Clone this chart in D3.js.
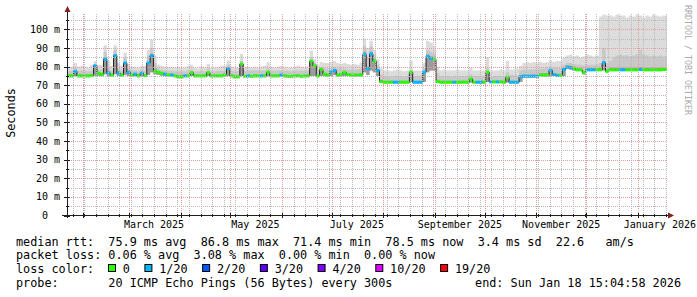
<!DOCTYPE html>
<html>
<head>
<meta charset="utf-8">
<script src="https://d3js.org/d3.v7.min.js"></script>
<style>
body { margin: 0; background: #fff; }
svg text { font-family: "DejaVu Sans Mono", monospace; white-space: pre; fill: #000; }
.axisText { font-size: 10px; }
.legend { font-size: 11.8px; }
.mark { font-size: 8.3px; fill: #aaaaaa; }
</style>
</head>
<body>
<svg id="svg_smoke"></svg>
<script>
  var w = 697;
  var h = 297;
  var plot = {left: 67, right: 667, top: 13, bottom: 215};

// time span of the graph
  var endTime = new Date(Date.UTC(2026, 0, 18, 15, 4, 58));
  var spanDays = 361;
  var binDays = 2;
  var startTime = new Date(endTime.getTime() - spanDays * 864e5);

// median rtt per 2-day bin (ms)
  var median = [
    75.0, 75.0, 77.5, 75.0, 75.0, 75.0, 75.0, 75.2, 80.5, 76.5,
    76.0, 84.0, 76.5, 75.5, 86.0, 76.5, 75.5, 82.0, 77.0, 75.5,
    76.0, 75.0, 76.5, 75.2, 82.0, 86.0, 77.5, 77.0, 76.5, 76.0,
    75.5, 75.5, 75.0, 74.5, 74.5, 75.0, 75.0, 76.8, 75.0, 75.0,
    75.0, 75.0, 76.8, 75.0, 75.0, 75.0, 75.0, 75.5, 79.0, 75.0,
    74.5, 74.5, 81.5, 74.8, 75.0, 74.8, 75.0, 75.0, 75.0, 75.0,
    77.0, 75.0, 75.0, 75.0, 75.5, 75.0, 74.8, 74.8, 75.0, 75.0,
    74.8, 75.0, 75.0, 83.0, 80.5, 75.0, 78.5, 76.0, 75.5, 77.2,
    78.0, 75.5, 75.8, 77.0, 75.8, 75.5, 75.5, 75.5, 75.5, 86.5,
    79.0, 86.8, 83.0, 78.0, 72.0, 71.6, 71.6, 71.6, 71.6, 71.6,
    71.6, 71.6, 71.6, 77.0, 71.6, 71.6, 71.6, 77.0, 85.5, 84.5,
    84.0, 72.0, 71.6, 71.6, 71.6, 71.6, 71.6, 71.6, 71.6, 71.6,
    71.6, 73.4, 71.6, 71.6, 71.6, 71.6, 77.0, 71.8, 71.8, 71.8,
    71.8, 71.6, 74.3, 71.6, 71.6, 71.6, 74.5, 74.8, 74.8, 74.8,
    74.8, 74.8, 75.5, 75.5, 75.5, 78.0, 75.8, 75.3, 75.3, 78.5,
    79.8, 79.5, 79.0, 78.3, 78.3, 76.8, 78.3, 78.3, 78.3, 78.3,
    78.3, 82.0, 77.5, 78.3, 78.3, 78.3, 78.3, 78.3, 78.3, 78.3,
    78.3, 78.3, 78.5, 78.3, 78.3, 78.3, 78.3, 78.3, 78.3, 78.5
  ];

// loss class per bin (index into lossLabels)
  var lossIdx = [
    0,0,1,0,0,0,0,0,1,0,
    0,1,1,0,1,1,0,1,1,0,
    1,0,1,0,1,1,0,0,0,1,
    0,1,0,0,0,1,0,0,0,0,
    0,0,0,0,0,0,0,0,1,0,
    0,0,0,0,1,0,0,0,1,0,
    0,0,0,0,1,0,0,0,0,0,
    0,0,0,0,0,0,0,0,0,1,
    1,0,0,0,0,0,0,0,0,1,
    1,1,0,1,0,0,0,0,1,1,
    0,0,0,0,1,1,1,1,1,1,
    0,0,0,0,0,0,1,0,0,0,
    0,0,0,1,1,0,0,1,0,1,
    0,0,0,1,1,1,1,1,1,1,
    1,1,0,0,0,1,1,1,0,1,
    1,1,0,0,0,0,1,1,1,0,
    0,1,0,0,0,0,1,1,0,0,
    0,0,1,0,0,0,0,0,0,0
  ];

// smoke: lowest ping, dark core top, mid band top, highest ping (ms)
  var pingMin = [
    74.7,74.7,74.8,74.7,74.7,74.7,74.7,74.8,75.2,75.0,
    74.8,76.0,75.0,74.8,76.0,75.0,74.8,75.5,75.0,74.8,
    74.8,74.7,74.8,74.7,75.5,77.0,76.0,75.5,75.2,75.0,
    74.8,74.8,74.5,74.2,74.2,74.5,74.5,75.0,74.6,74.6,
    74.6,74.6,75.0,74.6,74.6,74.6,74.6,74.8,75.0,74.6,
    74.2,74.2,75.0,74.4,74.5,74.4,74.5,74.5,74.5,74.5,
    74.8,74.5,74.5,74.5,74.8,74.5,74.4,74.4,74.5,74.5,
    74.4,74.5,74.5,75.0,75.0,74.5,75.0,74.8,74.8,75.0,
    75.5,74.8,75.0,75.0,75.0,74.8,74.8,74.8,74.8,77.0,
    75.5,78.0,77.0,75.0,71.4,71.3,71.3,71.3,71.3,71.3,
    71.3,71.3,71.3,71.8,71.3,71.3,71.3,71.8,77.0,78.0,
    78.0,71.4,71.3,71.3,71.3,71.3,71.3,71.3,71.3,71.3,
    71.3,71.5,71.3,71.3,71.3,71.3,71.8,71.3,71.3,71.3,
    71.3,71.3,71.5,71.3,71.3,71.3,71.8,74.4,74.4,74.4,
    74.4,74.4,74.8,74.8,74.8,75.0,75.0,74.8,74.8,75.0,
    78.8,78.5,78.0,77.8,77.8,76.0,77.8,77.8,77.8,77.8,
    77.8,78.0,77.0,77.8,77.8,77.8,77.8,77.8,77.8,77.8,
    77.8,77.8,77.8,77.8,77.8,77.8,77.8,77.8,77.8,77.8
  ];
  var pingCore = [
    75.8,75.8,78.0,75.8,75.8,75.8,75.8,76.0,80.5,77.0,
    76.5,85.0,77.5,76.2,86.0,77.5,76.2,82.5,77.5,76.2,
    76.5,75.8,77.0,76.0,82.5,87.0,79.0,77.5,77.0,76.5,
    76.2,76.2,75.8,75.5,75.5,75.8,75.8,77.0,75.8,75.8,
    75.8,75.8,77.0,75.8,75.8,75.8,75.8,76.2,79.0,75.8,
    75.3,75.3,81.0,75.5,75.8,75.5,75.8,75.8,75.8,75.8,
    77.0,75.8,75.8,75.8,76.2,75.8,75.5,75.5,75.8,75.8,
    75.5,75.8,75.8,83.0,80.5,75.8,78.5,76.5,76.2,77.5,
    78.0,76.2,76.5,77.0,76.5,76.2,76.2,76.2,76.5,88.0,
    80.0,88.0,84.0,78.5,73.0,72.5,72.5,72.5,72.5,72.5,
    72.5,72.5,72.5,77.0,72.5,72.5,72.5,77.0,86.5,85.5,
    85.0,73.0,72.5,72.5,72.5,72.5,72.5,72.5,72.5,72.5,
    72.5,73.5,72.5,72.5,72.5,72.5,76.5,72.5,72.5,72.5,
    72.5,72.5,74.0,72.5,72.5,72.5,75.5,75.8,75.8,75.8,
    75.8,75.8,76.5,76.5,76.5,78.0,76.5,76.2,76.2,79.0,
    80.5,80.5,80.0,79.2,79.2,77.5,79.2,79.2,79.2,79.2,
    79.5,83.0,78.5,79.5,79.5,79.5,79.5,79.5,79.5,79.5,
    79.5,79.5,79.8,79.5,79.5,79.5,79.5,79.5,79.5,79.5
  ];
  var pingHi = [
    77.5,77.8,79.5,77.8,78.0,77.5,77.5,78.0,81.5,78.5,
    78.5,88.0,79.5,78.0,89.0,79.5,78.0,85.0,79.0,78.0,
    78.0,77.5,78.5,78.0,86.0,90.0,82.0,79.0,78.5,78.0,
    77.8,77.8,77.5,77.5,77.5,77.5,78.0,78.5,77.5,77.5,
    77.8,77.5,79.0,77.5,77.5,77.8,78.0,78.0,81.0,77.8,
    77.5,77.5,83.0,77.8,78.0,78.0,78.0,78.0,78.0,78.0,
    79.0,78.0,77.8,78.0,78.0,77.8,77.8,77.5,77.8,78.0,
    77.8,77.8,78.0,85.0,82.0,78.5,80.0,79.0,79.0,79.5,
    80.0,79.0,79.0,79.0,78.5,78.5,78.5,78.5,79.0,91.0,
    85.0,91.0,86.5,81.0,76.0,75.0,75.0,74.5,75.0,75.0,
    75.0,74.5,75.0,78.0,75.0,75.0,75.0,79.0,89.0,88.0,
    87.0,76.5,75.0,75.0,75.0,74.5,75.0,75.0,75.0,75.0,
    75.0,76.0,75.0,75.0,75.0,75.0,79.0,75.0,75.0,75.0,
    75.0,75.0,77.0,75.5,75.5,75.5,78.0,78.5,78.5,78.5,
    78.5,78.5,79.0,79.0,79.5,80.0,79.5,79.5,79.5,81.0,
    82.0,82.0,81.5,81.0,81.0,80.5,81.0,81.0,81.0,81.0,
    82.0,90.0,82.0,83.0,85.0,86.0,86.5,86.0,86.0,85.5,
    86.0,86.5,89.0,86.5,86.0,85.5,86.0,85.5,86.0,85.5
  ];
  var pingMax = [
    79.5,80.0,82.0,80.0,80.5,79.5,79.5,81.0,83.0,81.0,
    81.0,91.5,83.0,80.5,91.5,82.0,80.5,87.5,81.5,80.0,
    80.0,79.5,80.5,80.5,89.0,94.5,86.0,81.0,80.5,80.0,
    79.5,80.0,79.5,80.0,79.5,79.5,80.5,81.0,79.5,79.0,
    80.0,79.5,81.5,79.5,79.5,80.0,80.5,80.5,83.3,80.0,
    79.5,79.5,87.0,80.0,80.0,79.5,80.0,79.5,80.0,80.5,
    82.4,80.0,79.5,80.0,80.5,80.0,79.5,79.5,80.0,80.5,
    80.0,79.5,80.0,88.7,84.0,81.0,82.5,82.0,82.0,82.5,
    83.0,82.0,81.5,82.0,81.5,81.0,81.5,81.0,82.0,95.0,
    90.0,94.0,89.0,84.0,79.0,78.0,78.0,77.5,78.0,78.5,
    78.0,77.5,78.0,83.5,78.0,78.0,78.0,82.0,94.0,93.0,
    91.0,80.0,78.0,78.5,78.0,78.0,78.0,78.5,78.0,78.0,
    78.0,79.5,78.0,78.0,78.0,78.0,85.0,78.0,78.0,78.0,
    78.5,78.0,83.0,78.5,78.5,79.0,80.5,82.0,82.5,82.0,
    82.5,82.0,82.5,82.0,82.5,83.5,82.5,83.0,83.0,85.0,
    86.0,86.5,85.5,86.0,85.0,85.5,86.5,86.0,85.5,86.0,
    107.0,108.0,107.5,107.5,107.0,108.0,107.5,107.5,106.5,107.5,
    107.0,108.0,107.5,106.5,107.5,107.0,108.0,107.5,107.0,107.5
  ];

// axis ticks and legend
  var yMax = 108.6;
  var yTickValues = [0, 10, 20, 30, 40, 50, 60, 70, 80, 90, 100];
  var yTickLabels = ["0  ", "10 m", "20 m", "30 m", "40 m", "50 m", "60 m", "70 m", "80 m", "90 m", "100 m"];
  var lossLabels = ["0", "1/20", "2/20", "3/20", "4/20", "10/20", "19/20"];
  var lossColors = ["#26ff00", "#00b8ff", "#0059ff", "#5e00ff", "#7e00ff", "#dd00ff", "#ff0000"];
  var legendRtt = "median rtt:  75.9 ms avg  86.8 ms max  71.4 ms min  78.5 ms now  3.4 ms sd  22.6   am/s";
  var legendLoss = "packet loss: 0.06 % avg  3.08 % max  0.00 % min  0.00 % now";
  var legendColorTitle = "loss color:";
  var legendProbe = "probe:       20 ICMP Echo Pings (56 Bytes) every 300s";
  var legendEnd = "end: Sun Jan 18 15:04:58 2026";

  var svg = d3.select("svg#svg_smoke")
      .attr("width", w)
      .attr("height", h);

  svg.append("rect").attr("width", w).attr("height", h).attr("fill", "#fff");

  var xScale = d3.scaleUtc()
      .domain([startTime, endTime])
      .range([plot.left, plot.right]);
  var yScale = d3.scaleLinear()
      .domain([0, yMax])
      .range([plot.bottom + 0.5, plot.top + 0.5]);

  var bins = median.map(function(m, i){
    return {
      t: d3.utcDay.offset(startTime, i * binDays),
      med: m, loss: lossIdx[i],
      lo: pingMin[i], core: pingCore[i], hi: pingHi[i], max: pingMax[i]
    };
  });
  bins.forEach(function(d, i){
    d.t1 = i < bins.length - 1 ? bins[i + 1].t : endTime;
  });
  var stepData = bins.concat([Object.assign({}, bins[bins.length - 1], {t: endTime})]);

  svg.append("clipPath").attr("id", "plotClip")
    .append("rect")
      .attr("x", plot.left).attr("y", plot.top)
      .attr("width", plot.right - plot.left).attr("height", plot.bottom - plot.top);

  var graph = svg.append("g").attr("clip-path", "url(#plotClip)");

// smoke layers, lightest first
  var smokeLayers = [
    {key: "max", color: "#dcdcdc"},
    {key: "hi", color: "#c8c8c8"},
    {key: "core", color: "#9c9c9c"}
  ];
  smokeLayers.forEach(function(layer){
    var area = d3.area()
        .curve(d3.curveStepAfter)
        .x(function(d){ return xScale(d.t); })
        .y0(function(d){ return yScale(d.lo); })
        .y1(function(d){ return yScale(d[layer.key]); });
    graph.append("path")
        .datum(stepData)
        .attr("d", area)
        .attr("fill", layer.color);
  });

// grid
  var gridG = svg.append("g").attr("shape-rendering", "crispEdges");
  var yMinor = d3.range(5, yMax, 10);
  var weekTicks = d3.utcSunday.range(startTime, endTime);
  var monthTicks = d3.utcMonth.range(startTime, endTime);
  var minorColor = "#b9b9b9";
  var majorColor = "#e59c9c";

  gridG.selectAll("line.hminor").data(yMinor).enter().append("line")
      .attr("x1", plot.left).attr("x2", plot.right)
      .attr("y1", function(d){ return Math.round(yScale(d)) + 0.5; })
      .attr("y2", function(d){ return Math.round(yScale(d)) + 0.5; })
      .attr("stroke", minorColor).attr("stroke-dasharray", "1,1");
  gridG.selectAll("line.vminor").data(weekTicks).enter().append("line")
      .attr("x1", function(d){ return Math.round(xScale(d)) + 0.5; })
      .attr("x2", function(d){ return Math.round(xScale(d)) + 0.5; })
      .attr("y1", plot.bottom).attr("y2", plot.top)
      .attr("stroke", minorColor).attr("stroke-dasharray", "1,1");
  gridG.selectAll("line.hmajor").data(yTickValues.slice(1)).enter().append("line")
      .attr("x1", plot.left).attr("x2", plot.right)
      .attr("y1", function(d){ return Math.round(yScale(d)) + 0.5; })
      .attr("y2", function(d){ return Math.round(yScale(d)) + 0.5; })
      .attr("stroke", majorColor).attr("stroke-dasharray", "1,1");
  gridG.selectAll("line.vmajor").data(monthTicks).enter().append("line")
      .attr("x1", function(d){ return Math.round(xScale(d)) + 0.5; })
      .attr("x2", function(d){ return Math.round(xScale(d)) + 0.5; })
      .attr("y1", plot.bottom).attr("y2", plot.top)
      .attr("stroke", majorColor).attr("stroke-dasharray", "1,1");

// median line + loss coloured bars
  var medLine = d3.line()
      .curve(d3.curveStepAfter)
      .x(function(d){ return xScale(d.t); })
      .y(function(d){ return yScale(d.med); });
  graph.append("path")
      .datum(stepData)
      .attr("d", medLine)
      .attr("fill", "none")
      .attr("stroke", "#202020")
      .attr("stroke-width", 1);
  graph.selectAll("rect.med")
      .data(bins)
      .enter().append("rect")
      .attr("x", function(d){ return xScale(d.t); })
      .attr("width", function(d){ return xScale(d.t1) - xScale(d.t); })
      .attr("y", function(d){ return yScale(d.med) - 1.5; })
      .attr("height", 3)
      .attr("fill", function(d){ return lossColors[d.loss]; });

// axes
  var axisG = svg.append("g").attr("shape-rendering", "crispEdges");
  axisG.append("line")
      .attr("x1", plot.left - 5).attr("x2", plot.right + 2)
      .attr("y1", plot.bottom + 0.5).attr("y2", plot.bottom + 0.5)
      .attr("stroke", "#1f1f1f");
  axisG.append("line")
      .attr("x1", plot.left + 0.5).attr("x2", plot.left + 0.5)
      .attr("y1", plot.bottom + 3).attr("y2", plot.top - 2)
      .attr("stroke", "#1f1f1f");
  axisG.selectAll("line.ytick").data(yTickValues).enter().append("line")
      .attr("x1", plot.left - 3).attr("x2", plot.left + 3)
      .attr("y1", function(d){ return Math.round(yScale(d)) + 0.5; })
      .attr("y2", function(d){ return Math.round(yScale(d)) + 0.5; })
      .attr("stroke", "#1f1f1f");
  axisG.selectAll("line.ymtick").data(yMinor).enter().append("line")
      .attr("x1", plot.left - 1).attr("x2", plot.left + 2)
      .attr("y1", function(d){ return Math.round(yScale(d)) + 0.5; })
      .attr("y2", function(d){ return Math.round(yScale(d)) + 0.5; })
      .attr("stroke", "#1f1f1f");
  axisG.selectAll("line.xtick").data(monthTicks).enter().append("line")
      .attr("x1", function(d){ return Math.round(xScale(d)) + 0.5; })
      .attr("x2", function(d){ return Math.round(xScale(d)) + 0.5; })
      .attr("y1", plot.bottom - 2).attr("y2", plot.bottom + 3)
      .attr("stroke", "#1f1f1f");
  axisG.selectAll("line.xmtick").data(weekTicks).enter().append("line")
      .attr("x1", function(d){ return Math.round(xScale(d)) + 0.5; })
      .attr("x2", function(d){ return Math.round(xScale(d)) + 0.5; })
      .attr("y1", plot.bottom - 1).attr("y2", plot.bottom + 2)
      .attr("stroke", "#1f1f1f");

// arrows
  svg.append("path")
      .attr("d", "M" + (plot.right + 1) + "," + (plot.bottom - 2.5) + "L" + (plot.right + 7) + "," + (plot.bottom + 0.5) + "L" + (plot.right + 1) + "," + (plot.bottom + 3.5) + "Z")
      .attr("fill", "#801f1f");
  svg.append("path")
      .attr("d", "M" + (plot.left - 2.5) + "," + (plot.top - 1) + "L" + (plot.left + 0.5) + "," + (plot.top - 7) + "L" + (plot.left + 3.5) + "," + (plot.top - 1) + "Z")
      .attr("fill", "#801f1f");

// tick labels
  svg.selectAll("text.ylab").data(yTickValues).enter().append("text")
      .attr("class", "axisText")
      .attr("x", plot.left - 7)
      .attr("y", function(d){ return yScale(d) + 3.5; })
      .attr("text-anchor", "end")
      .text(function(d, i){ return yTickLabels[i]; });

  var labelMonths = d3.utcMonth.every(2).range(startTime, endTime).filter(function(d){
    return d3.utcDay.offset(d, 15) < endTime;
  });
  svg.selectAll("text.xlab").data(labelMonths).enter().append("text")
      .attr("class", "axisText")
      .attr("x", function(d){ return xScale(d3.utcDay.offset(d, 15)); })
      .attr("y", plot.bottom + 13)
      .attr("text-anchor", "middle")
      .text(d3.utcFormat("%B %Y"))
      .each(function(){
        // keep the last label inside the picture
        var box = this.getBBox();
        if (box.x + box.width > w - 1) {
          d3.select(this).attr("x", +d3.select(this).attr("x") - (box.x + box.width - (w - 1)));
        }
      });

  svg.append("text")
      .attr("class", "legend")
      .attr("transform", "translate(14.5,113) rotate(-90)")
      .attr("text-anchor", "middle")
      .text("Seconds");

  svg.append("text")
      .attr("class", "mark")
      .attr("transform", "translate(685,5) rotate(90)")
      .text("RRDTOOL / TOBI OETIKER");

// legend
  var lg = svg.append("g").attr("class", "legend");
  lg.append("text").attr("x", 16).attr("y", 245.5).text(legendRtt);
  lg.append("text").attr("x", 16).attr("y", 259.3).text(legendLoss);
  lg.append("text").attr("x", 16).attr("y", 273).text(legendColorTitle);
  lg.append("text").attr("x", 16).attr("y", 286.7).text(legendProbe);
  lg.append("text").attr("x", 681).attr("y", 286.7).attr("text-anchor", "end").text(legendEnd);

  var boxX = 108.5;
  lossLabels.forEach(function(lab, i){
    lg.append("rect")
        .attr("x", boxX).attr("y", 264.5)
        .attr("width", 7).attr("height", 7)
        .attr("fill", lossColors[i])
        .attr("stroke", "#000").attr("stroke-width", 1);
    var t = lg.append("text").attr("x", boxX + 14.3).attr("y", 273).text(lab);
    boxX = boxX + 14.3 + t.node().getComputedTextLength() + 15;
  });
</script>
</body>
</html>
